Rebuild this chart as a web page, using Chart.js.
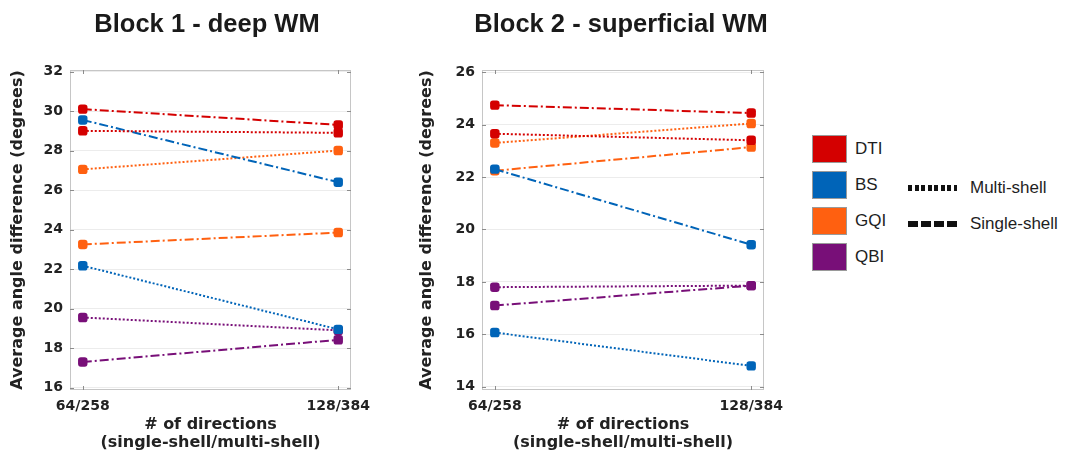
<!DOCTYPE html>
<html>
<head>
<meta charset="utf-8">
<script src="https://cdn.jsdelivr.net/npm/chart.js@4.4.0/dist/chart.umd.min.js"></script>
<style>
  body { margin: 0; background: #fff; width: 1073px; height: 451px; position: relative; overflow: hidden; font-family: "Liberation Sans", Arial, sans-serif; color: #1e1e1e; }
  canvas { position: absolute; top: 0; }
  #block1 { left: 0; }
  #block2 { left: 415px; }
  .title { position: absolute; top: 7px; width: 400px; text-align: center; font-size: 25.5px; font-weight: bold; line-height: 32px; color: #1a1a1a; }
  .box { position: absolute; left: 812px; width: 33px; height: 26px; border: 1px solid #9a9a9a; }
  .name { position: absolute; left: 855px; font-size: 17px; line-height: 28px; }
  .sample { position: absolute; left: 908px; width: 49px; height: 6px; }
  .dotted { background: repeating-linear-gradient(90deg, #111 0 4px, transparent 4px 6.5px); }
  .dashed { background: repeating-linear-gradient(90deg, #111 0 10px, transparent 10px 13px); }
  .style-name { position: absolute; left: 970px; font-size: 17px; line-height: 20px; }
</style>
</head>
<body>
<canvas id="block1" width="386" height="453"></canvas>
<canvas id="block2" width="384" height="453"></canvas>
<div class="title" style="left:7px">Block 1 - deep WM</div>
<div class="title" style="left:421px">Block 2 - superficial WM</div>
<div id="legend"></div>
<div class="sample dotted" style="top:185px"></div>
<div class="style-name" style="top:178px">Multi-shell</div>
<div class="sample dashed" style="top:221px"></div>
<div class="style-name" style="top:214px">Single-shell</div>
<script>
// 手法名と色
const methods = ['DTI', 'BS', 'GQI', 'QBI'];
const methodColors = ['#d40000', '#0064b8', '#ff6010', '#780f78'];
// 方向数 (single-shell/multi-shell)
const directionLabels = ['64/258', '128/384'];

// Block 1 - deep WM  [64/258, 128/384]
const deepSingle = [[30.1, 29.3], [29.55, 26.4], [23.25, 23.85], [17.3, 18.42]];
const deepMulti = [[29.0, 28.9], [22.17, 18.95], [27.05, 28.0], [19.55, 18.9]];
const deepTicks = [16, 18, 20, 22, 24, 26, 28, 30, 32];

// Block 2 - superficial WM  [64/258, 128/384]
const superficialSingle = [[24.74, 24.44], [22.3, 19.42], [22.24, 23.14], [17.1, 17.86]];
const superficialMulti = [[23.65, 23.4], [16.07, 14.8], [23.3, 24.04], [17.8, 17.86]];
const superficialTicks = [14, 16, 18, 20, 22, 24, 26];

const tickFont = { family: 'DejaVu Sans', size: 14, weight: 'bold' };
const axisTitleFont = { family: 'DejaVu Sans', size: 16, weight: 'bold', lineHeight: 1.12 };

// 凡例
let legendHtml = '';
methods.forEach((m, i) => {
    let top = 135 + i * 36;
    legendHtml += '<div class="box" style="top:' + top + 'px;background:' + methodColors[i] + '"></div>';
    legendHtml += '<div class="name" style="top:' + top + 'px">' + m + '</div>';
});
document.getElementById('legend').innerHTML = legendHtml;

// 枠線と内向きの目盛り
const framePlugin = {
    id: 'frame',
    beforeDatasetsDraw(chart) {
        const { ctx, chartArea: a, scales } = chart;
        ctx.save();
        ctx.strokeStyle = '#c6c6c6';
        ctx.lineWidth = 1;
        ctx.strokeRect(a.left + 0.5, a.top + 0.5, a.width - 1, a.height - 1);
        ctx.strokeStyle = '#8c8c8c';
        ctx.beginPath();
        scales.y.ticks.forEach(t => {
            let y = Math.round(scales.y.getPixelForValue(t.value)) + 0.5;
            ctx.moveTo(a.left, y); ctx.lineTo(a.left + 4, y);
            ctx.moveTo(a.right, y); ctx.lineTo(a.right - 4, y);
        });
        scales.x.ticks.forEach(t => {
            let x = Math.round(scales.x.getPixelForValue(t.value)) + 0.5;
            ctx.moveTo(x, a.top); ctx.lineTo(x, a.top + 4);
            ctx.moveTo(x, a.bottom); ctx.lineTo(x, a.bottom - 4);
        });
        ctx.stroke();
        ctx.restore();
    }
};

// データセット作成
function makeDatasets(singleList, multiList) {
    let datasets = [];
    methods.forEach((m, i) => {
        [[multiList, [2, 2], 'Multi-shell'], [singleList, [9, 3, 2, 3], 'Single-shell']].forEach(([list, dash, shell]) => {
            datasets.push({
                label: m + ' ' + shell,
                data: list[i].map((v, j) => ({ x: j, y: v })),
                borderColor: methodColors[i],
                backgroundColor: methodColors[i],
                borderWidth: 2,
                borderDash: dash,
                pointStyle: 'rectRounded',
                pointRadius: 5.5,
                pointBorderWidth: 0
            });
        });
    });
    return datasets;
}

// 線グラフ生成
function setLineChart(id, singleList, multiList, ticks, plotLeft, padLeft, titlePad) {
    let canvas = document.getElementById(id);
    let ctx = canvas.getContext('2d');
    new Chart(ctx, {
        type: 'line',
        data: { datasets: makeDatasets(singleList, multiList) },
        plugins: [framePlugin],
        options: {
            responsive: false,
            animation: false,
            layout: { padding: { left: padLeft, right: 35, top: 70, bottom: 0 } },
            plugins: {
                legend: { display: false },
                tooltip: { enabled: false }
            },
            scales: {
                x: {
                    type: 'linear',
                    min: -0.05,
                    max: 1.05,
                    afterBuildTicks: axis => { axis.ticks = directionLabels.map((_, j) => ({ value: j })); },
                    afterFit: axis => { axis.height = canvas.height - 390; },
                    grid: { display: false },
                    border: { display: false },
                    ticks: {
                        autoSkip: false,
                        maxRotation: 0,
                        padding: 0,
                        color: '#222',
                        font: tickFont,
                        callback: v => directionLabels[v]
                    },
                    title: {
                        display: true,
                        text: ['# of directions', '(single-shell/multi-shell)'],
                        color: '#222',
                        font: axisTitleFont,
                        padding: { top: 0, bottom: 1 }
                    }
                },
                y: {
                    min: ticks[0] - 0.12,
                    max: ticks[ticks.length - 1] + 0.08,
                    afterBuildTicks: axis => { axis.ticks = ticks.map(v => ({ value: v })); },
                    afterFit: axis => { axis.width = plotLeft - padLeft; },
                    grid: { color: '#ececec', drawTicks: false },
                    border: { display: false },
                    ticks: { padding: 7, color: '#222', font: tickFont },
                    title: {
                        display: true,
                        text: 'Average angle difference (degrees)',
                        color: '#222',
                        font: axisTitleFont,
                        padding: { top: titlePad, bottom: 4 }
                    }
                }
            }
        }
    });
}

setLineChart('block1', deepSingle, deepMulti, deepTicks, 70, 3, 6);
setLineChart('block2', superficialSingle, superficialMulti, superficialTicks, 67, 0, 3);
</script>
</body>
</html>
